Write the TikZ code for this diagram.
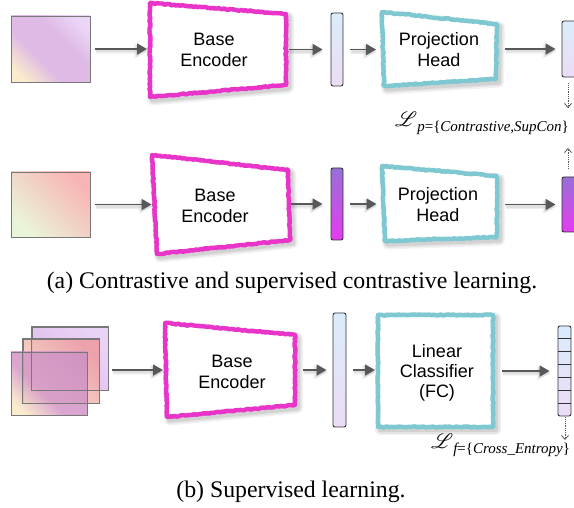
\documentclass[tikz,border=0pt]{standalone}
\usepackage{fontspec}
\setmainfont{Liberation Serif}
\newfontfamily\helv{Liberation Sans}
\usepackage{mathrsfs}
\usetikzlibrary{arrows.meta,decorations.pathmorphing,calc}

\definecolor{encpink}{RGB}{232,52,200}
\definecolor{headcyan}{RGB}{126,200,210}
\definecolor{arrowgray}{RGB}{88,88,88}
\definecolor{barline}{RGB}{50,50,55}
\definecolor{imgline}{RGB}{120,120,120}
\definecolor{lighttop}{RGB}{218,236,251}
\definecolor{lightbot}{RGB}{236,220,245}
\definecolor{purptop}{RGB}{152,112,214}
\definecolor{purpbot}{RGB}{228,60,240}
% image tints: lower-left / middle / upper-right
\definecolor{imaLL}{RGB}{251,236,204}
\definecolor{imaM}{RGB}{222,186,228}
\definecolor{imaUR}{RGB}{236,214,248}
\definecolor{imbLL}{RGB}{233,245,216}
\definecolor{imbM}{RGB}{240,206,196}
\definecolor{imbUR}{RGB}{248,180,180}
\definecolor{imcLL}{RGB}{222,186,232}
\definecolor{imcM}{RGB}{222,192,236}
\definecolor{imcUR}{RGB}{234,212,246}
\definecolor{imdLL}{RGB}{246,222,196}
\definecolor{imdM}{RGB}{240,194,184}
\definecolor{imdUR}{RGB}{238,156,164}
\definecolor{imeLL}{RGB}{250,232,196}
\definecolor{imeM}{RGB}{212,150,200}
\definecolor{imeUR}{RGB}{206,146,198}

% diagonal tint, pale only near the lower-left corner
\pgfdeclarehorizontalshading{tintA}{100bp}{color(0bp)=(imaLL); color(22bp)=(imaLL);
  color(40bp)=(imaM); color(60bp)=(imaM); color(78bp)=(imaUR); color(100bp)=(imaUR)}
\pgfdeclarehorizontalshading{tintE}{100bp}{color(0bp)=(imeLL); color(22bp)=(imeLL);
  color(42bp)=(imeM); color(78bp)=(imeUR); color(100bp)=(imeUR)}

\tikzset{
  x=1pt, y=1pt,
  sketch/.style={draw=#1, line width=4.4pt, line join=round,
    decorate, decoration={random steps, segment length=1.6pt, amplitude=0.6pt}},
  sketchfuzz/.style={draw=#1, line width=1.1pt, line join=round,
    decorate, decoration={random steps, segment length=1.2pt, amplitude=1.7pt}},
  flow/.style={draw=arrowgray, line width=1.7pt, -{Triangle[length=10pt,width=11pt]}},
  flowshade/.style={draw=black, opacity=#1, transform canvas={shift={(1,-2)}}},
  lossflow/.style={draw=arrowgray, densely dotted, line width=0.8pt,
    -{Straight Barb[length=4pt,width=7pt]}},
  imgbox/.style n args={3}{draw=imgline, line width=0.8pt, inner sep=0pt,
    bottom color=#1, middle color=#2, top color=#3, shading angle=-45},
  tintbox/.style={draw=imgline, line width=0.8pt, inner sep=0pt,
    shade, shading=#1, shading angle=45},
  bar/.style={draw=barline, line width=0.9pt, rounded corners=2pt, inner sep=0pt,
    minimum width=12pt},
  lightbar/.style={bar, top color=lighttop, bottom color=lightbot},
  purpbar/.style={bar, top color=purptop, bottom color=purpbot},
  boxtext/.style={align=center, font=\helv\fontsize{18}{21}\selectfont, inner sep=0pt},
  captext/.style={font=\fontsize{23.8}{28}\selectfont, inner sep=0pt},
}

% sketched box: name, colour, corners TL TR BR BL
\newcommand\skbox[6]{%
  \begin{scope}[shift={(2.5,-3)}]
    \foreach \w/\o in {11/0.05,8/0.06,5/0.08}
      \draw[black, opacity=\o, line width=\w pt, line join=round] #3 -- #4 -- #5 -- #6 -- cycle;
  \end{scope}
  \fill[white] #3 -- #4 -- #5 -- #6 -- cycle;
  \draw[sketch=#2] #3 -- #4 -- #5 -- #6 -- cycle;
  \draw[sketchfuzz=#2] #3 -- #4 -- #5 -- #6 -- cycle;
  \coordinate (#1-w) at ($#3!0.5!#6$);
  \coordinate (#1-e) at ($#4!0.5!#5$);
}

% arrow with a soft shadow
\newcommand\flowarrow[4]{%
  \foreach \w/\o/\t in {6/0.035/14,4.5/0.04/13,3/0.05/12}
    \draw[flowshade=\o, line width=\w pt, -{Triangle[length=\t pt,width=\t pt]},
      shorten <=#1, shorten >=#2] #3 -- #4;
  \draw[flow, shorten <=#1, shorten >=#2] #3 -- #4;
}

\newcommand\losslabel[1]{%
  {\fontsize{21}{21}\selectfont$\mathscr{L}$}\raisebox{-5pt}{\fontsize{15}{15}\selectfont #1}}

\begin{document}
\begin{tikzpicture}
\useasboundingbox (0,0) rectangle (574,507);

% ---------- (a) first view ----------
\node[tintbox=tintA, minimum width=79pt, minimum height=66pt] (img1) at (50.5,458) {};

\skbox{enc1}{encpink}{(150,504)}{(286,493)}{(286,422)}{(150,410)}
\node[boxtext] (enc1t) at (214,457.5) {Base\\Encoder};

\node[lightbar, minimum height=73pt] (bar1) at (337,457.5) {};

\skbox{proj1}{headcyan}{(382,495)}{(497,483)}{(496,428)}{(384,421)}
\node[boxtext] (proj1t) at (439,457.5) {Projection\\Head};

\node[lightbar, minimum width=14pt, minimum height=56pt] (out1) at (569,458) {};

\flowarrow{5pt}{3pt}{(img1.east)}{(img1.east -| enc1-w)}
\flowarrow{3pt}{8pt}{(enc1-e |- bar1.west)}{(bar1.west)}
\flowarrow{7pt}{7pt}{(bar1.east)}{(bar1.east -| proj1-w)}
\flowarrow{8pt}{6pt}{(proj1-e |- out1.west)}{(out1.west)}

\coordinate (d1) at (568,399);
\draw[lossflow, shorten <=6pt] (out1.south -| d1) -- (d1);

\node[anchor=base west, inner sep=0pt] (loss1) at (395,380)
  {\losslabel{\itshape p\upshape=\{\itshape Contrastive,SupCon\upshape\}}};

% ---------- (a) second view ----------
\node[imgbox={imbLL}{imbM}{imbUR}, minimum width=79pt, minimum height=65pt] (img2) at (50.5,302.5) {};

\skbox{enc2}{encpink}{(152,352)}{(288,337)}{(290,267)}{(157,253)}
\node[boxtext] (enc2t) at (215,301.5) {Base\\Encoder};

\node[purpbar, minimum height=72pt] (bar2) at (337,303) {};

\skbox{proj2}{headcyan}{(382,341)}{(497,331)}{(497,270)}{(385,266)}
\node[boxtext] (proj2t) at (438,302.5) {Projection\\Head};

\node[purpbar, minimum width=14pt, minimum height=55pt] (out2) at (569,302.5) {};

\flowarrow{5pt}{3pt}{(img2.east)}{(img2.east -| enc2-w)}
\flowarrow{2pt}{8pt}{(enc2-e |- bar2.west)}{(bar2.west)}
\flowarrow{7pt}{7pt}{(bar2.east)}{(bar2.east -| proj2-w)}
\flowarrow{8pt}{6pt}{(proj2-e |- out2.west)}{(out2.west)}

\coordinate (u2) at (568,359);
\draw[lossflow, shorten <=8pt] (out2.north -| u2) -- (u2);

\node[captext] (capa) at (292,224) {(a) Contrastive and supervised contrastive learning.};

% ---------- (b) supervised ----------
\node[imgbox={imcLL}{imcM}{imcUR}, minimum width=76pt, minimum height=63pt] (img3b) at (70,148.5) {};
\node[imgbox={imdLL}{imdM}{imdUR}, minimum width=76pt, minimum height=64pt, fill opacity=0.9] (img3m) at (61,136) {};
\node[tintbox=tintE, minimum width=76pt, minimum height=63pt, fill opacity=0.85] (img3f) at (49,123.5) {};
\draw[imgline, line width=0.8pt] (img3b.south west) rectangle (img3b.north east);
\draw[imgline, line width=0.8pt] (img3m.south west) rectangle (img3m.north east);

\skbox{enc3}{encpink}{(165,184)}{(295,172)}{(295,102)}{(167,90)}
\node[boxtext] (enc3t) at (232,135.5) {Base\\Encoder};

\node[lightbar, minimum width=13pt, minimum height=114pt] (bar3) at (339.5,137) {};

\skbox{lin}{headcyan}{(378,192)}{(493,192)}{(493,80)}{(378,80)}
\node[boxtext, font=\helv\fontsize{18}{20}\selectfont] (lint) at (437,134.5) {Linear\\Classifier\\(FC)};

\node[lightbar, minimum width=13pt, minimum height=90pt] (out3) at (564.5,136) {};
\foreach \k in {1,...,6}
  \draw[barline, line width=0.8pt] ($(out3.south west)!\k/7!(out3.north west)$) -- ($(out3.south east)!\k/7!(out3.north east)$);

\flowarrow{4pt}{3pt}{(img3b.east |- bar3.center)}{(enc3-w |- bar3.center)}
\flowarrow{8pt}{6pt}{(enc3-e |- bar3.west)}{(bar3.west)}
\flowarrow{7pt}{3pt}{(bar3.east)}{(bar3.east -| lin-w)}
\flowarrow{9pt}{8pt}{(lin-e |- out3.west)}{(out3.west)}

\coordinate (d3) at (565,67);
\draw[lossflow, shorten <=1pt] (out3.south -| d3) -- (d3);

\node[anchor=base west, inner sep=0pt] (loss3) at (431,58)
  {\losslabel{\itshape f\upshape=\{\itshape Cross\_Entropy\upshape\}}};

\node[captext] (capb) at (291,15) {(b) Supervised learning.};
\end{tikzpicture}
\end{document}
